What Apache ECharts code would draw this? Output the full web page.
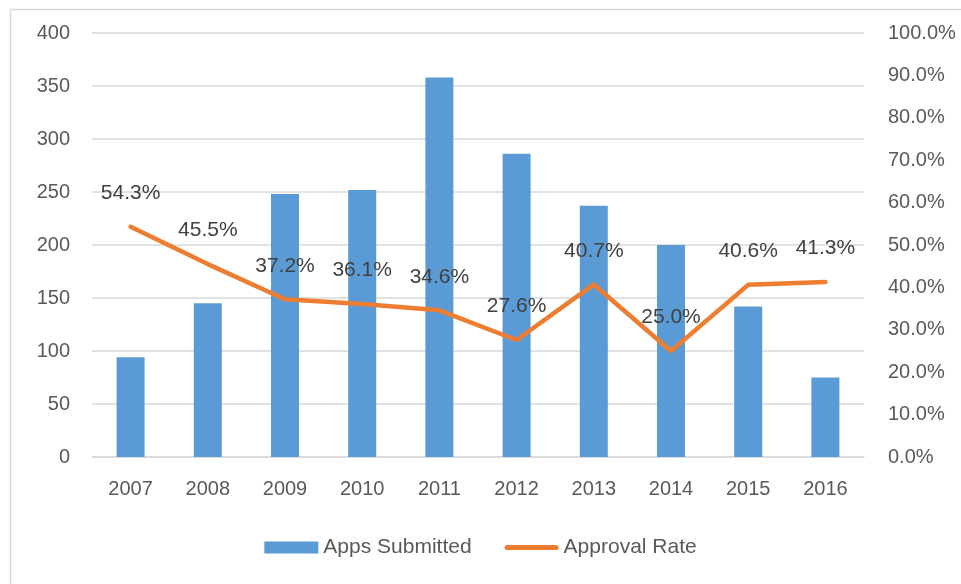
<!DOCTYPE html>
<html>
<head>
<meta charset="utf-8">
<script src="https://cdn.jsdelivr.net/npm/echarts@6/dist/echarts.min.js"></script>
<style>
html,body{margin:0;padding:0;background:#fff;}
#chart{width:961px;height:584px;}
</style>
</head>
<body>
<div id="chart"></div>
<script>
const years = ['2007','2008','2009','2010','2011','2012','2013','2014','2015','2016'];
const appsSubmitted = [94, 145, 248, 252, 358, 286, 237, 200, 142, 75];
const approvalRate = [54.3, 45.5, 37.2, 36.1, 34.6, 27.6, 40.7, 25.0, 40.6, 41.3];
const leftTicks = [0, 50, 100, 150, 200, 250, 300, 350, 400];
const rightTicks = [0, 10, 20, 30, 40, 50, 60, 70, 80, 90, 100];

const FONT = 'Liberation Sans';
const chart = echarts.init(document.getElementById('chart'));
chart.setOption({
  animation: false,
  textStyle: { fontFamily: FONT },
  graphic: [{
    type: 'rect', silent: true, z: -10,
    shape: { x: 10.5, y: 9.5, width: 1000, height: 1000 },
    style: { fill: 'none', stroke: '#d9d9d9', lineWidth: 1.5 }
  }],
  grid: { left: 92, right: 97, top: 33, bottom: 127, containLabel: false },
  legend: {
    bottom: 21, left: 'center',
    itemGap: 33,
    textStyle: { color: '#595959', fontSize: 21, fontFamily: FONT },
    data: [
      { name: 'Apps Submitted', icon: 'rect' },
      { name: 'Approval Rate', icon: 'path://M2.5,0 L51.5,0 A2.5,2.5 0 0 1 51.5,5 L2.5,5 A2.5,2.5 0 0 1 2.5,0 Z' }
    ],
    itemWidth: 54, itemHeight: 12
  },
  xAxis: {
    type: 'category', data: years,
    axisLine: { lineStyle: { color: '#d9d9d9', width: 1.5 } },
    axisTick: { show: false },
    axisLabel: { color: '#595959', fontSize: 20, margin: 22 }
  },
  yAxis: [{
    type: 'value', min: leftTicks[0], max: leftTicks[leftTicks.length-1], interval: 50,
    axisLine: { show: false }, axisTick: { show: false },
    splitLine: { lineStyle: { color: '#d9d9d9', width: 1.5 } },
    axisLabel: { color: '#595959', fontSize: 20, margin: 22 }
  }, {
    type: 'value', min: rightTicks[0], max: rightTicks[rightTicks.length-1], interval: 10,
    axisLine: { show: false }, axisTick: { show: false },
    splitLine: { show: false },
    axisLabel: { color: '#595959', fontSize: 20, margin: 24, formatter: v => v.toFixed(1) + '%' }
  }],
  series: [{
    name: 'Apps Submitted', type: 'bar', data: appsSubmitted,
    barWidth: 28,
    itemStyle: { color: '#5B9BD5' }
  }, {
    name: 'Approval Rate', type: 'line', yAxisIndex: 1, data: approvalRate,
    symbol: 'circle', symbolSize: 2, showSymbol: true,
    lineStyle: { color: '#ED7D31', width: 4.5, cap: 'round', join: 'round' },
    itemStyle: { color: '#ED7D31' },
    label: {
      show: true, position: 'top', distance: 22,
      color: '#404040', fontSize: 21,
      formatter: p => p.value.toFixed(1) + '%'
    }
  }]
});
</script>
</body>
</html>
